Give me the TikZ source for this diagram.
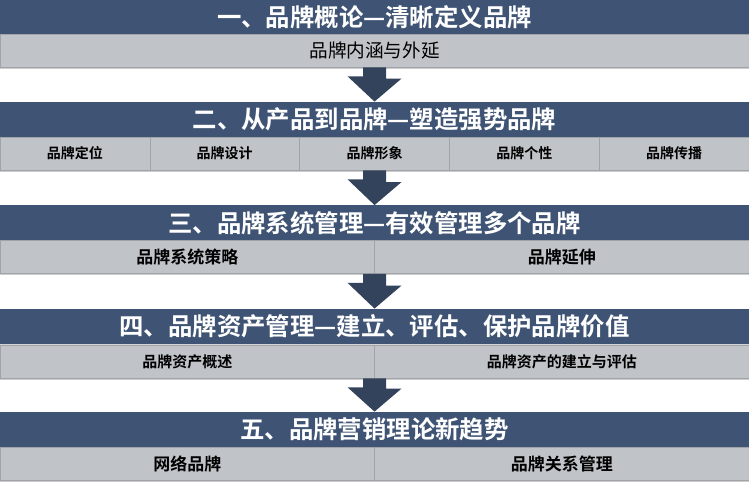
\documentclass[tikz,border=0pt]{standalone}
\usepackage{fontspec}
\newfontfamily\cjk{Noto Sans CJK SC}[BoldFont={Noto Sans CJK SC Bold}]
\usetikzlibrary{shadows}

\definecolor{barblue}{RGB}{63,84,116}
\definecolor{cellgray}{RGB}{192,195,199}
\definecolor{cellline}{RGB}{160,163,168}
\definecolor{arrowblue}{RGB}{52,67,92}

\begin{document}
\begin{tikzpicture}[x=0.5pt, y=-0.5pt,
    titlebar/.style={fill=barblue, text=white, minimum width=374.5pt, minimum height=17.5pt, inner sep=0pt,
        drop shadow={shadow xshift=0pt, shadow yshift=-0.6pt, opacity=0.35},
        font=\cjk\bfseries\fontsize{12.2}{14}\selectfont},
    subcell/.style={fill=cellgray, draw=cellline, line width=0.3pt, minimum width=#1, minimum height=16.5pt, inner sep=0pt,
        drop shadow={shadow xshift=0pt, shadow yshift=-0.8pt, opacity=0.4}},
    subfont/.style={font=\cjk\bfseries\fontsize{#1}{#1}\selectfont},
    blockarrow/.style={fill=arrowblue}]
    \useasboundingbox (0,0) rectangle (749,491);

    % Section 1
    \node[titlebar] (t1) at (374.5,17) {一、品牌概论—清晰定义品牌};
    \node[subcell=374.5pt, font=\cjk\fontsize{9.3}{10}\selectfont] (s1) at (374.5,50.5) {品牌内涵与外延};

    % Section 2
    \node[titlebar] (t2) at (374.5,119.5) {二、从产品到品牌—塑造强势品牌};
    \node[subcell=74.9pt, subfont=7] (s2a) at (74.9,153.5) {品牌定位};
    \node[subcell=74.9pt, subfont=7] (s2b) at (224.7,153.5) {品牌设计};
    \node[subcell=74.9pt, subfont=7] (s2c) at (374.5,153.5) {品牌形象};
    \node[subcell=74.9pt, subfont=7] (s2d) at (524.3,153.5) {品牌个性};
    \node[subcell=74.9pt, subfont=7] (s2e) at (674.1,153.5) {品牌传播};

    % Section 3
    \node[titlebar] (t3) at (374.5,223) {三、品牌系统管理—有效管理多个品牌};
    \node[subcell=187.25pt, subfont=8.5] (s3a) at (187.25,257) {品牌系统策略};
    \node[subcell=187.25pt, subfont=8.5] (s3b) at (561.75,257) {品牌延伸};

    % Section 4
    \node[titlebar] (t4) at (374.5,326.5) {四、品牌资产管理—建立、评估、保护品牌价值};
    \node[subcell=187.25pt, subfont=7.5] (s4a) at (187.25,361.5) {品牌资产概述};
    \node[subcell=187.25pt, subfont=7.5] (s4b) at (561.75,361.5) {品牌资产的建立与评估};

    % Section 5
    \node[titlebar] (t5) at (374.5,429.5) {五、品牌营销理论新趋势};
    \node[subcell=187.25pt, subfont=8.5] (s5a) at (187.25,463.5) {网络品牌};
    \node[subcell=187.25pt, subfont=8.5] (s5b) at (561.75,463.5) {品牌关系管理};

    % Arrows between sections
    \foreach \from/\to in {s1/t2, s2c/t3, s3a/t4, s4a/t5} {
        \fill[blockarrow] ([xshift=-5.75pt]\from.south -| \to.north) -- ++(0,9) -- ++(-15.5,0)
            -- (\to.north) -- ++(27,-23) -- ++(-15.5,0) -- ([xshift=5.75pt]\from.south -| \to.north) -- cycle;
    }
\end{tikzpicture}
\end{document}
